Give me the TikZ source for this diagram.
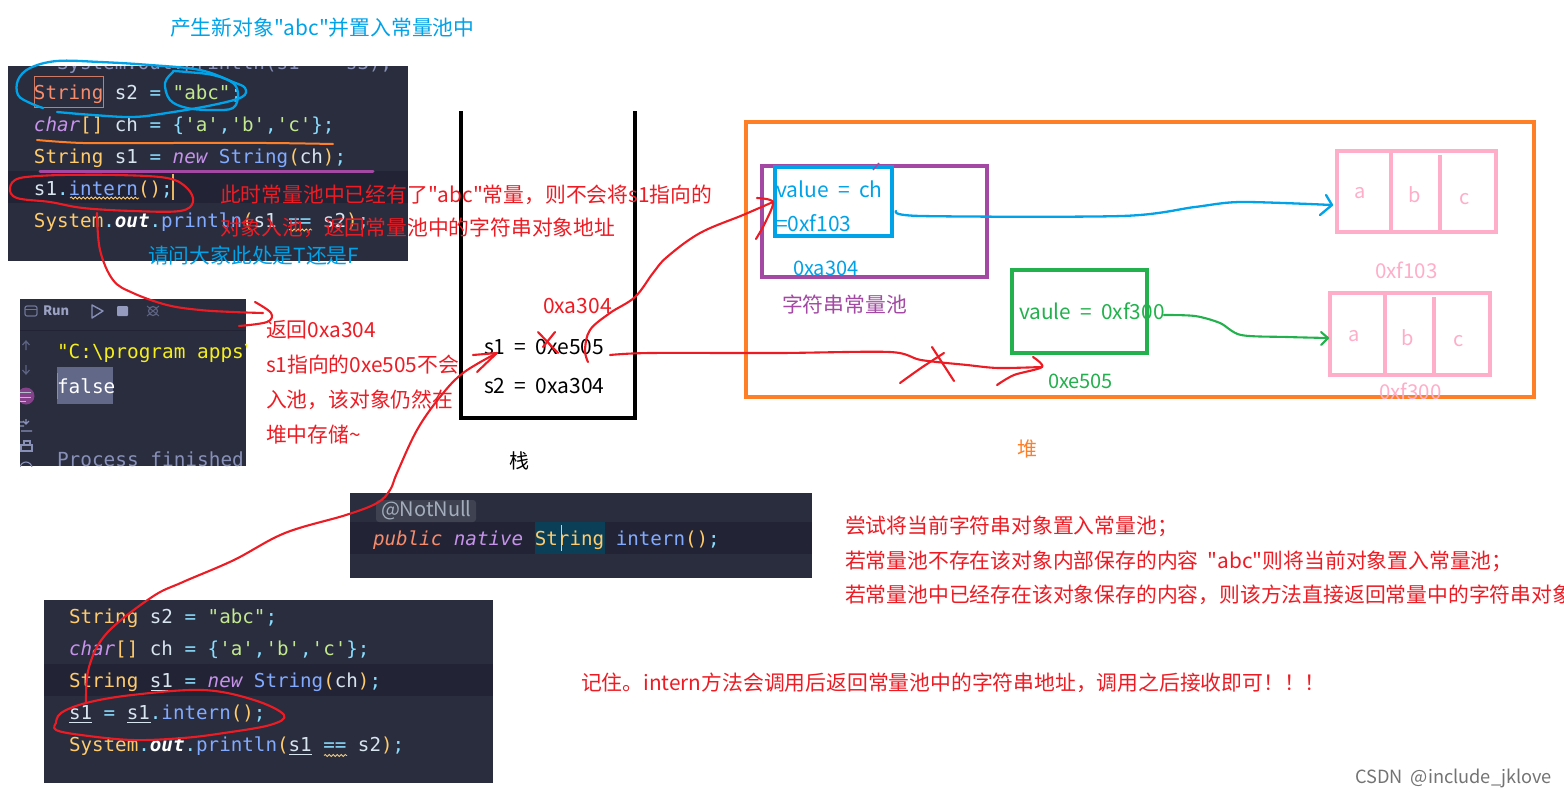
\documentclass[tikz,border=0pt]{standalone}
\usepackage{fontspec}
\usetikzlibrary{decorations.pathmorphing}
\newfontfamily\cnfont{Noto Sans CJK SC}[WordSpace=2.0]
\setmonofont{DejaVu Sans Mono}
\AtBeginDocument{\cnfont}
\definecolor{pbg}{HTML}{292D3E}
\definecolor{prow}{HTML}{222435}
\definecolor{cy}{HTML}{FFCB6B}
\definecolor{cp}{HTML}{C792EA}
\definecolor{cb}{HTML}{82AAFF}
\definecolor{cg}{HTML}{C3E88D}
\definecolor{cc}{HTML}{89DDFF}
\definecolor{cw}{HTML}{D8E4F0}
\definecolor{co}{HTML}{F78C6C}
\definecolor{rd}{HTML}{ED1C24}
\definecolor{bl}{HTML}{00A2E8}
\definecolor{gn}{HTML}{22B14C}
\definecolor{og}{HTML}{FF7F27}
\definecolor{pu}{HTML}{A349A4}
\definecolor{pk}{HTML}{FFAEC9}
\definecolor{dim}{HTML}{8890B8}
\definecolor{hl}{HTML}{0B3F58}
\newcommand{\sz}[1]{\fontsize{#1}{#1}\selectfont}
\tikzset{
  lab/.style={inner sep=0,outer sep=0,anchor=west},
  cen/.style={inner sep=0,outer sep=0,anchor=center},
  code/.style={inner sep=0,outer sep=0,anchor=base west,font=\ttfamily\sz{19.2},text=cw},
  codeb/.style={code,font=\ttfamily\sz{19.2}},
  rt/.style={lab,text=rd,font=\sz{20.8}},
  bt/.style={lab,text=bl,font=\sz{20.8}},
  panel/.style={fill=pbg,draw=none},
  bx/.style={draw,inner sep=0,outer sep=0,line width=4pt,anchor=north west},
  rp/.style={draw=rd,line width=2.1pt,line cap=round,line join=round},
  bp/.style={draw=bl,line width=2.3pt,line cap=round,line join=round},
  gp/.style={draw=gn,line width=2.1pt,line cap=round,line join=round},
  pinkb/.style={draw=pk,line width=3.4pt},
  pinkt/.style={cen,text=pk,font=\sz{20}},
  wavy/.style={draw=cy,line width=.8pt,decorate,decoration={snake,amplitude=1pt,segment length=4pt}},
}
\begin{document}
\begin{tikzpicture}[x=1pt,y=-1pt]
\useasboundingbox (0,0) rectangle (1564,798);
\fill[white] (0,0) rectangle (1564,798);

% panel 1
\fill[panel] (8,66) rectangle (408,261);
\fill[prow] (8,171) rectangle (408,203);
\begin{scope}
\clip (8,66) rectangle (408,261);
\node[code,text=dim] (ghost) at (57,69) {System.out.println(s1 == s3);};
\end{scope}
\node[code] (p1a) at (34,99) {\textcolor{co}{String} s2 \textcolor{cc}{=} \textcolor{cg}{"abc"}\textcolor{cc}{;}};
\node[code] (p1b) at (34,131) {\textcolor{cp}{\itshape char}\textcolor{cy}{[]} ch \textcolor{cc}{=} \textcolor{cc}{\{}\textcolor{cg}{'a'}\textcolor{cc}{,}\textcolor{cg}{'b'}\textcolor{cc}{,}\textcolor{cg}{'c'}\textcolor{cc}{\};}};
\node[code] (p1c) at (34,163) {\textcolor{cy}{String} s1 \textcolor{cc}{=} \textcolor{cp}{\itshape new} \textcolor{cb}{String}\textcolor{cy}{(}ch\textcolor{cy}{)}\textcolor{cc}{;}};
\node[code] (p1d) at (34,195) {s1\textcolor{cc}{.}\textcolor{cb}{intern}\textcolor{cy}{()}\textcolor{cc}{;}};
\node[code] (p1e) at (34,227) {\textcolor{cy}{System}\textcolor{cc}{.}\textcolor{white}{\bfseries\itshape out}\textcolor{cc}{.}\textcolor{cb}{println}\textcolor{cy}{(}s1 \textcolor{cc}{==} s2\textcolor{cy}{)}\textcolor{cc}{;}};
\draw[co!80!pbg,line width=.8pt] (34.5,76.5) rectangle (103.5,107.5);
\draw[wavy] (70,198) -- (139,198);
\draw[wavy] (289,230) -- (312,230);
\fill[cy!90!black] (172.3,174) rectangle (173.8,200);

% run panel
\fill[panel] (20,299) rectangle (246,466);
\draw[prow,line width=1pt] (20,330.5) -- (246,330.5);
\draw[dim!80!black,line width=1.2pt,rounded corners=2pt] (25,306) rectangle (37,316);
\draw[dim!80!black,line width=.8pt] (25,309.5) -- (37,309.5);
\node[lab,text=dim!85!white,font=\bfseries\sz{13}] (runlabel) at (43,311) {Run};
\draw[dim,line width=1.4pt,line join=round] (92,305) -- (103,311) -- (92,318) -- cycle;
\fill[dim!90!white,rounded corners=1pt] (117,306) rectangle (128,316);
\draw[dim!55!pbg,line width=1.2pt] (153,311) circle (4.5);
\draw[dim!55!pbg,line width=1pt] (147,306)--(159,316) (159,306)--(147,316);
\draw[dim!55!pbg,line width=1.2pt] (26,350)--(26,341) (22.5,345)--(26,341)--(29.5,345);
\draw[dim!55!pbg,line width=1.2pt] (26,365)--(26,374) (22.5,370)--(26,374)--(29.5,370);
\begin{scope}
\clip (20,299) rectangle (246,466);
\fill[pu!75!pbg] (26,396) circle (8.5);
\draw[cw!80!pbg,line width=1pt] (20,392.5)--(31,392.5) (20,397)--(31,397) (20,401)--(26,401);
\draw[dim,line width=1.1pt] (20,422)--(24,422) (20,426)--(24,426) (26,419)--(26,424) (23,421)--(26,424)--(29,421) (21,431)--(32,431);
\draw[dim,line width=1.1pt] (21,445) rectangle (32,451);
\draw[dim,line width=1.1pt] (24,445)--(24,441)--(30,441)--(30,445);
\fill[dim!60!pbg] (57,367) rectangle (113,404);
\fill[cy!70!black] (57,373) rectangle (58,399);
\node[code,text=yellow!85!cg,font=\ttfamily\sz{19.4}] (runa) at (57,358) {"C:\textbackslash program apps\textbackslash};
\node[code,text=white,font=\ttfamily\sz{19.4}] (runb) at (57,393) {false};
\node[code,text=dim,font=\ttfamily\sz{19.4}] (runc) at (57,466) {Process finished};
\draw[dim,line width=1.1pt] (20,468) arc (180:360:6);
\end{scope}

% panel 3
\fill[panel] (350,493) rectangle (812,578);
\fill[prow] (350,522) rectangle (812,554);
\fill[pbg!90!white,rounded corners=3pt] (376,500) rectangle (476,522);
\node[lab,text=cw!70!pbg,font=\sz{20}] (notnull) at (381,510) {@NotNull};
\fill[hl] (535,522) rectangle (605,554);
\node[codeb] (p3a) at (373,545) {\textcolor{co}{\itshape public} \textcolor{cp}{\itshape native} \textcolor{cy}{String} \textcolor{cb}{intern}\textcolor{cy}{()}\textcolor{cc}{;}};
\fill[cy] (560.5,525) rectangle (561.7,551);

% panel 4
\fill[panel] (44,600) rectangle (493,783);
\fill[prow] (44,664) rectangle (493,696);
\node[codeb] (p4a) at (69,623) {\textcolor{cy}{String} s2 \textcolor{cc}{=} \textcolor{cg}{"abc"}\textcolor{cc}{;}};
\node[codeb] (p4b) at (69,655) {\textcolor{cp}{\itshape char}\textcolor{cy}{[]} ch \textcolor{cc}{=} \textcolor{cc}{\{}\textcolor{cg}{'a'}\textcolor{cc}{,}\textcolor{cg}{'b'}\textcolor{cc}{,}\textcolor{cg}{'c'}\textcolor{cc}{\};}};
\node[codeb] (p4c) at (69,687) {\textcolor{cy}{String} s1 \textcolor{cc}{=} \textcolor{cp}{\itshape new} \textcolor{cb}{String}\textcolor{cy}{(}ch\textcolor{cy}{)}\textcolor{cc}{;}};
\node[codeb] (p4d) at (69,719) {s1 \textcolor{cc}{=} s1\textcolor{cc}{.}\textcolor{cb}{intern}\textcolor{cy}{()}\textcolor{cc}{;}};
\node[codeb] (p4e) at (69,751) {\textcolor{cy}{System}\textcolor{cc}{.}\textcolor{white}{\bfseries\itshape out}\textcolor{cc}{.}\textcolor{cb}{println}\textcolor{cy}{(}s1 \textcolor{cc}{==} s2\textcolor{cy}{)}\textcolor{cc}{;}};
\draw[cw,line width=1pt] (151,690)--(174,690) (69,722)--(92,722) (127,722)--(151,722) (289,754)--(312,754);
\draw[wavy] (324,755.5)--(347,755.5);

% stack
\draw[black,line width=4pt,line join=miter] (461,111) -- (461,418) -- (635,418) -- (635,111);
\node[lab,font=\sz{21}] (s1val) at (484,347) {s1 = 0xe505};
\node[lab,font=\sz{21}] (s2val) at (484,386) {s2 = 0xa304};
\node[lab,text=rd,font=\sz{21}] (newaddr) at (543,306) {0xa304};
\node[cen,font=\sz{20}] (stacklabel) at (519,461) {栈};

% heap
\node[bx,draw=og,minimum width=788,minimum height=275] (heap) at (746,122) {};
\node[cen,text=og,font=\sz{20}] (heaplabel) at (1027,449) {堆};
\node[bx,draw=pu,minimum width=225,minimum height=111] (pool) at (762,166) {};
\node[bx,draw=bl,minimum width=117,minimum height=69] (strobj) at (775,167) {};
\node[lab,text=bl,font=\sz{21}] (valch) at (776,189) {value = ch};
\node[lab,text=bl,font=\sz{21}] (valaddr) at (776,223) {=0xf103};
\node[lab,text=bl,font=\sz{20}] (pooladdr) at (793,268) {0xa304};
\node[lab,text=pu,font=\sz{20.8}] (poollabel) at (782,305) {字符串常量池};
\node[bx,draw=gn,minimum width=135,minimum height=83] (heapobj) at (1012,270) {};
\node[lab,text=gn,font=\sz{20.8}] (vaule) at (1019,311) {vaule = 0xf300};
\node[lab,text=gn,font=\sz{20}] (objaddr) at (1048,381) {0xe505};
\draw[pu,line width=1.4pt] (879,163)--(873,170);

% char arrays
\node[bx,pinkb,minimum width=159,minimum height=81] (arrA) at (1337,151) {};
\draw[pinkb] (1391,151)--(1391,232) (1440,155)--(1440,232);
\node[pinkt] (a1) at (1360,193) {a};
\node[pinkt] (b1) at (1415,195) {b};
\node[pinkt] (c1) at (1465,199) {c};
\node[lab,text=pk,font=\sz{20.5}] (addrA) at (1375,270) {0xf103};
\node[bx,pinkb,minimum width=160,minimum height=82] (arrB) at (1330,293) {};
\draw[pinkb] (1385,293)--(1385,375) (1434,297)--(1434,375);
\node[pinkt] (a2) at (1354,336) {a};
\node[pinkt] (b2) at (1408,338) {b};
\node[pinkt] (c2) at (1459,341) {c};
\node[lab,text=pk,font=\sz{20.5}] (addrB) at (1379,391) {0xf300};

% captions
\node[bt] (captop) at (170,28) {产生新对象"abc"并置入常量池中};
\node[bt] (capq) at (148,256) {请问大家此处是T还是F};
\node[rt] (r1) at (220,195) {此时常量池中已经有了"abc"常量，则不会将s1指向的};
\node[rt] (r2) at (220,228) {对象入池，返回常量池中的字符串对象地址};
\node[rt] (r3) at (266,330) {返回0xa304};
\node[rt] (r4) at (266,365) {s1指向的0xe505不会};
\node[rt] (r5) at (266,400) {入池，该对象仍然在};
\node[rt] (r6) at (266,435) {堆中存储\textasciitilde};
\node[rt] (n1) at (845,526) {尝试将当前字符串对象置入常量池；};
\node[rt] (n2) at (845,561) {若常量池不存在该对象内部保存的内容 "abc"则将当前对象置入常量池；};
\node[rt] (n3) at (845,595) {若常量池中已经存在该对象保存的内容，则该方法直接返回常量中的字符串对象};
\node[rt] (n4) at (581,683) {记住。intern方法会调用后返回常量池中的字符串地址，调用之后接收即可！！！};
\node[lab,text=black!55,font=\sz{18.2}] (mark) at (1355,778) {CSDN @include\_jklove};

% freehand marks on first panel
\draw[bp] plot[smooth,tension=.6] coordinates {(43,108)(30,103)(18,95)(18,80)(30,68)(57,61)(100,62)(150,65)(200,70)(233,82)(245,88)(242,97)(213,105)(167,113)(133,117)(93,115)(57,112)};
\draw[bp] plot[smooth,tension=.6] coordinates {(173,72)(165,83)(170,100)(187,108)(213,110)(233,108)(238,95)(233,83)(213,75)(187,72)(173,71)};
\draw[og,line width=2pt,line cap=round] plot[smooth] coordinates {(37,140)(83,143)(167,143)(267,143)(333,144)};
\draw[pu,line width=3pt,line cap=round] (40,171) -- (373,171);
\draw[rp] plot[smooth,tension=.6] coordinates {(60,175)(20,178)(10,188)(17,198)(50,202)(83,208)(133,211)(180,211)(193,202)(187,188)(167,178)(117,175)(60,175)};

% connectors
\coordinate (cInternA) at (97,213);
\coordinate (cRetEnd) at (263,313);
\draw[rp] plot[smooth,tension=.6] coordinates {(cInternA)(100,250)(113,280)(133,293)(167,305)(200,310)(233,312)(cRetEnd)};
\draw[rp] plot[smooth,tension=.6] coordinates {(255,302)(271,313)(267,322)(239,326)};

\coordinate (cP4) at (86,703);
\coordinate (cS1) at (497,353);
\draw[rp] plot[smooth,tension=.6] coordinates {(56,723)(61,713)(cP4)(132,695)(203,690)(254,700)(284,715)(270,725)(224,733)(183,738)(132,740)(81,735)(56,730)(56,723)};
\draw[rp] plot[smooth,tension=.6] coordinates {(cP4)(89,667)(107,633)(152,597)(183,582)(234,560)(285,533)(346,515)(377,503)(390,490)(397,473)(417,430)(440,397)(463,373)(cS1)};
\draw[rp] (473,355)--(cS1)--(477,372);

\coordinate (cS1r) at (588,362);
\coordinate (cObj) at (773,202);
\draw[rp] plot[smooth,tension=.6] coordinates {(cS1r)(585,350)(590,330)(610,313)(635,297)(653,273)(667,257)(700,233)(743,215)(cObj)};
\draw[rp] plot[smooth,tension=.5] coordinates {(757,198)(cObj)(765,223)(756,239)};

\draw[rp] (538,332)--(558,353) (555,332)--(543,347);

\coordinate (cS1e) at (610,355);
\coordinate (cHeapObj) at (1042,367);
\draw[rp] plot[smooth,tension=.5] coordinates {(cS1e)(650,353)(780,353)(890,352)(921,360)(967,365)(998,368)(cHeapObj)};
\draw[rp] plot[smooth,tension=.5] coordinates {(1033,357)(cHeapObj)(1014,375)(997,385)};
\draw[rp] plot[smooth,tension=.5] coordinates {(900,383)(921,368)(944,353)};
\draw[rp] (932,347)--(954,381);

\coordinate (cStrE) at (896,211);
\coordinate (cArrA) at (1332,205);
\draw[bp] plot[smooth,tension=.5] coordinates {(cStrE)(921,216)(1122,216)(1195,207)(1241,202)(cArrA)};
\draw[bp] (1326,195)--(cArrA)--(1320,215);

\coordinate (cObjE) at (1164,315);
\coordinate (cArrB) at (1328,338);
\draw[gp] plot[smooth,tension=.5] coordinates {(cObjE)(1195,316)(1220,323)(1241,335)(1287,337)(cArrB)};
\draw[gp] (1321,332)--(cArrB)--(1321,345);
\end{tikzpicture}
\end{document}
